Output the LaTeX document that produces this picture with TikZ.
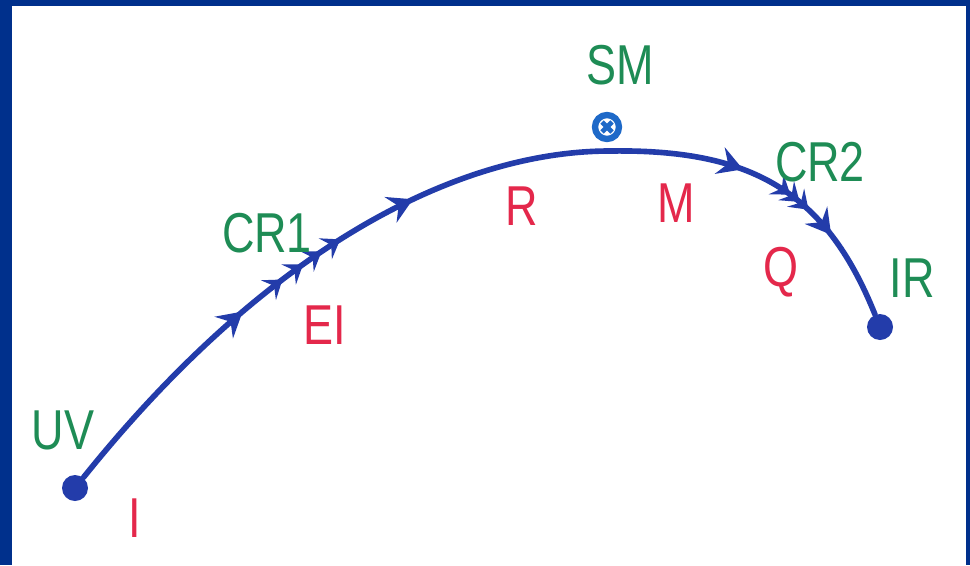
\documentclass[tikz,border=0pt]{standalone}
\usepackage{fontspec}
\newfontfamily\handfont{Liberation Sans}[FakeStretch=0.8]
\usetikzlibrary{arrows.meta, decorations.markings}
\definecolor{frameblue}{RGB}{0,48,140}
\definecolor{inkblue}{RGB}{35,60,170}
\definecolor{inkgreen}{RGB}{30,140,85}
\definecolor{inkred}{RGB}{228,40,75}
\definecolor{ringblue}{RGB}{30,105,200}
\tikzset{
    flowtip/.tip={Stealth[length=7pt, width=8pt, inset=2.5pt]},
    hatchtip/.tip={Stealth[length=5pt, width=7pt, inset=2pt]},
    path line/.style={draw=inkblue, line width=1.6pt, line cap=round},
    flow at/.style={postaction={decorate, decoration={markings,
        mark=at position #1 with {\arrow[inkblue]{flowtip}}}}},
    hatch at/.style={postaction={decorate, decoration={markings,
        mark=at position #1 with {\arrow[inkblue]{hatchtip}}}}},
    end dot/.style={circle, fill=inkblue, inner sep=0pt, minimum size=0.26cm},
    ring/.style={circle, draw=ringblue, line width=1.8pt, inner sep=0pt, minimum size=0.24cm},
    green text/.style={text=inkgreen, font=\handfont\fontsize{16}{18}\selectfont},
    red text/.style={text=inkred, font=\handfont\fontsize{16}{18}\selectfont}
}

\begin{document}
\begin{tikzpicture}
    \useasboundingbox (0,0) rectangle (9.7,5.65);
    \fill[frameblue] (0,0) rectangle (9.7,5.65);
    \fill[white] (0.12,0) rectangle (9.66,5.59);

    \node[end dot] (uv) at (0.75,0.77) {};
    \node[end dot] (ir) at (8.8,2.38) {};
    \coordinate (top) at (6.1,4.14);
    \node[ring] (sm) at (6.07,4.38) {};
    \draw[ringblue, line width=1.4pt] (sm.center) +(-0.05,-0.05) -- +(0.05,0.05)
        (sm.center) +(-0.05,0.05) -- +(0.05,-0.05);

    \draw[path line, flow at=0.36, hatch at=0.44, hatch at=0.48, hatch at=0.515,
        hatch at=0.55, flow at=0.68] (uv) .. controls (2.7,3.2) and (4.6,4.14) .. (top);
    \draw[path line, flow at=0.40, hatch at=0.56, hatch at=0.595, hatch at=0.63,
        flow at=0.73] (top) .. controls (7.5,4.16) and (8.25,3.75) .. (ir);

    \node[green text] (uv_lbl) at (0.63,1.35) {UV};
    \node[red text] (i_lbl) at (1.35,0.47) {I};
    \node[green text] (cr1_lbl) at (2.67,3.32) {CR1};
    \node[red text] (ei_lbl) at (3.25,2.40) {EI};
    \node[red text] (r_lbl) at (5.22,3.59) {R};
    \node[green text] (sm_lbl) at (6.20,5.00) {SM};
    \node[red text] (m_lbl) at (6.76,3.62) {M};
    \node[green text] (cr2_lbl) at (8.20,4.03) {CR2};
    \node[red text] (q_lbl) at (7.81,2.93) {Q};
    \node[green text] (ir_lbl) at (9.12,2.87) {IR};
\end{tikzpicture}
\end{document}
